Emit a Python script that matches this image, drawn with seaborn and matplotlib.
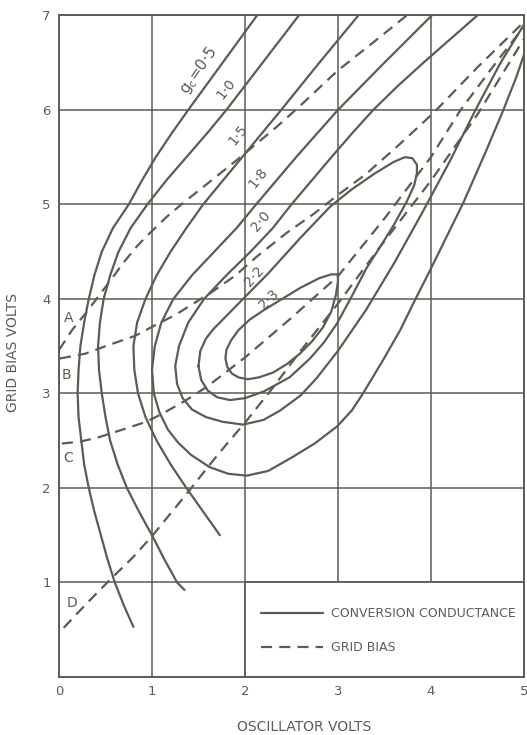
import pandas as pd
import seaborn as sns
import matplotlib.pyplot as plt
from matplotlib.lines import Line2D
from matplotlib.patches import Rectangle

ink = "#5b5c52"

# conversion conductance contours, x = oscillator volts, y = grid bias volts
gc05_x = [0.80, 0.70, 0.60, 0.52, 0.45, 0.38, 0.32, 0.27, 0.24, 0.21, 0.20, 0.21, 0.23, 0.27, 0.32, 0.38,
          0.46, 0.58, 0.75, 0.89, 1.04, 1.21, 1.39, 1.76, 2.13]
gc05_y = [0.53, 0.75, 1.00, 1.25, 1.50, 1.75, 2.00, 2.25, 2.50, 2.75, 3.00, 3.25, 3.50, 3.75, 4.00, 4.25,
          4.50, 4.75, 5.00, 5.25, 5.50, 5.75, 6.00, 6.50, 7.00]

gc10_x = [1.35, 1.27, 1.13, 1.00, 0.86, 0.73, 0.63, 0.55, 0.50, 0.46, 0.43, 0.42, 0.44, 0.48, 0.55, 0.64,
          0.77, 0.95, 1.15, 1.37, 1.59, 1.80, 2.19, 2.58]
gc10_y = [0.92, 1.00, 1.25, 1.50, 1.75, 2.00, 2.25, 2.50, 2.75, 3.00, 3.25, 3.50, 3.75, 4.00, 4.25, 4.50,
          4.75, 5.00, 5.25, 5.50, 5.75, 6.00, 6.50, 7.00]

gc15_x = [1.73, 1.55, 1.37, 1.20, 1.05, 0.93, 0.85, 0.81, 0.80, 0.84, 0.93, 1.05, 1.20, 1.37, 1.55, 1.76,
          1.97, 2.18, 2.39, 2.80, 3.22]
gc15_y = [1.50, 1.75, 2.00, 2.25, 2.50, 2.75, 3.00, 3.25, 3.50, 3.75, 4.00, 4.25, 4.50, 4.75, 5.00, 5.25,
          5.50, 5.75, 6.00, 6.50, 7.00]

gc18_x = [4.01, 3.50, 3.00, 2.55, 2.12, 1.91, 1.67, 1.43, 1.23, 1.10, 1.03, 1.00, 1.02, 1.08, 1.17, 1.28,
          1.42, 1.62, 1.82, 2.02, 2.25, 2.50, 2.75, 2.99, 3.15, 3.27, 3.49, 3.67, 3.83, 4.00, 4.18, 4.35,
          4.60, 4.78, 4.92, 5.00]
gc18_y = [7.00, 6.50, 6.00, 5.50, 5.00, 4.75, 4.50, 4.25, 4.00, 3.75, 3.50, 3.25, 3.00, 2.80, 2.62, 2.48,
          2.35, 2.22, 2.15, 2.13, 2.18, 2.32, 2.47, 2.65, 2.82, 3.00, 3.36, 3.67, 3.99, 4.32, 4.68, 5.02,
          5.58, 6.00, 6.35, 6.58]

gc20_x = [4.50, 4.21, 3.92, 3.64, 3.38, 3.15, 2.93, 2.50, 2.30, 2.06, 1.80, 1.56, 1.39, 1.29, 1.25, 1.27,
          1.33, 1.43, 1.58, 1.76, 1.98, 2.20, 2.38, 2.60, 2.77, 3.00, 3.30, 3.60, 3.90, 4.20, 4.48, 4.75, 5.00]
gc20_y = [7.00, 6.75, 6.50, 6.25, 6.00, 5.75, 5.50, 5.00, 4.75, 4.50, 4.25, 4.00, 3.75, 3.50, 3.29, 3.10,
          2.95, 2.83, 2.75, 2.70, 2.67, 2.72, 2.82, 2.98, 3.16, 3.45, 3.88, 4.37, 4.90, 5.45, 6.00, 6.50, 6.90]

gc22_x = [1.50, 1.52, 1.58, 1.66, 1.78, 1.98, 2.25, 2.60, 2.92, 3.15, 3.40, 3.60, 3.72, 3.80, 3.85, 3.85,
          3.82, 3.74, 3.60, 3.46, 3.31, 3.15, 2.99, 2.85, 2.70, 2.48, 2.20, 2.00, 1.84, 1.70, 1.60, 1.53, 1.50]
gc22_y = [3.29, 3.45, 3.58, 3.68, 3.80, 4.00, 4.27, 4.65, 4.98, 5.16, 5.33, 5.45, 5.50, 5.49, 5.42, 5.33,
          5.20, 5.03, 4.78, 4.56, 4.33, 4.03, 3.74, 3.54, 3.37, 3.17, 3.02, 2.95, 2.93, 2.96, 3.03, 3.14, 3.29]

gc23_x = [3.00, 2.93, 2.80, 2.60, 2.40, 2.20, 2.05, 1.93, 1.85, 1.80, 1.79, 1.81, 1.86, 1.93, 2.03, 2.15,
          2.30, 2.45, 2.59, 2.72, 2.84, 2.93, 2.98, 3.00, 3.00]
gc23_y = [4.26, 4.26, 4.22, 4.12, 4.00, 3.88, 3.78, 3.67, 3.56, 3.46, 3.37, 3.28, 3.21, 3.17, 3.15, 3.17,
          3.22, 3.31, 3.42, 3.55, 3.70, 3.87, 4.05, 4.18, 4.26]

# grid bias curves A-D
biasA_x = [0.00, 0.14, 0.32, 0.44, 0.55, 0.69, 0.84, 0.98, 1.16, 1.34, 1.66, 1.95, 2.34, 2.59, 2.99, 3.40, 3.74]
biasA_y = [3.46, 3.67, 3.89, 4.05, 4.19, 4.38, 4.56, 4.70, 4.87, 5.02, 5.27, 5.50, 5.82, 6.04, 6.41, 6.73, 7.00]

biasB_x = [0.01, 0.28, 0.50, 0.82, 1.03, 1.25, 1.46, 1.64, 1.90, 2.13, 2.45, 2.74, 3.00, 3.30, 3.60, 3.80,
           4.03, 4.50, 5.00]
biasB_y = [3.37, 3.42, 3.50, 3.61, 3.72, 3.83, 3.96, 4.07, 4.25, 4.45, 4.70, 4.90, 5.10, 5.32, 5.58, 5.76,
           5.97, 6.45, 6.93]

biasC_x = [0.03, 0.23, 0.44, 0.66, 0.94, 1.12, 1.37, 1.59, 2.00, 2.50, 3.00, 3.50, 4.00, 4.32, 4.70, 5.00]
biasC_y = [2.47, 2.49, 2.54, 2.61, 2.70, 2.79, 2.93, 3.07, 3.38, 3.80, 4.24, 4.85, 5.50, 6.00, 6.50, 6.88]

biasD_x = [0.05, 0.30, 0.55, 0.80, 1.00, 1.20, 1.40, 1.60, 1.80, 2.00, 2.30, 2.59, 3.00, 3.46, 4.00, 4.50, 5.00]
biasD_y = [0.52, 0.78, 1.03, 1.27, 1.49, 1.73, 1.97, 2.22, 2.46, 2.69, 3.06, 3.44, 3.95, 4.56, 5.25, 5.95, 6.75]

gc_labels = ["g$_\\mathrm{c}$=0·5", "1·0", "1·5", "1·8", "2·0", "2·2", "2·3"]
gc_label_x = [1.50, 1.80, 1.93, 2.14, 2.17, 2.10, 2.26]
gc_label_y = [6.42, 6.22, 5.74, 5.28, 4.82, 4.24, 3.99]
gc_label_rot = [55, 52, 52, 52, 50, 48, 45]

bias_letters = ["A", "B", "C", "D"]
letter_x = [0.10, 0.08, 0.10, 0.14]
letter_y = [3.80, 3.20, 2.32, 0.78]

solid = [(gc05_x, gc05_y), (gc10_x, gc10_y), (gc15_x, gc15_y), (gc18_x, gc18_y),
         (gc20_x, gc20_y), (gc22_x, gc22_y), (gc23_x, gc23_y)]
dashed = [(biasA_x, biasA_y), (biasB_x, biasB_y), (biasC_x, biasC_y), (biasD_x, biasD_y)]


def long_form(curves):
    rows = []
    for i, (xs, ys) in enumerate(curves):
        for x, y in zip(xs, ys):
            rows.append({"osc": x, "bias": y, "curve": i})
    return pd.DataFrame(rows)


df_gc = long_form(solid)
df_bias = long_form(dashed)

sns.set_style("white")
plt.rcParams["font.family"] = ["DejaVu Sans"]

fig, ax = plt.subplots(figsize=(5.27, 7.35), dpi=100)
fig.subplots_adjust(left=0.112, right=0.994, top=0.979, bottom=0.079)

sns.lineplot(data=df_gc, x="osc", y="bias", units="curve", estimator=None, sort=False,
             color=ink, lw=1.6, legend=False, ax=ax, zorder=3,
             solid_joinstyle="round")
sns.lineplot(data=df_bias, x="osc", y="bias", units="curve", estimator=None, sort=False,
             color=ink, lw=1.6, linestyle=(0, (5.0, 3.2)), legend=False, ax=ax, zorder=3)

ax.set_xlim(0, 5)
ax.set_ylim(0, 7)
ax.set_xticks(range(0, 6))
ax.set_yticks(range(1, 8))
ax.grid(True, color=ink, lw=1.1)
ax.set_axisbelow(True)
for sp in ax.spines.values():
    sp.set_color(ink)
    sp.set_linewidth(1.4)
ax.tick_params(length=0, labelsize=9.5, labelcolor=ink, pad=6)
ax.set_xlabel("")
ax.set_ylabel("")

# legend panel covers the grid in the lower right
ax.add_patch(Rectangle((2, 0), 3, 1, facecolor="white", edgecolor=ink, lw=1.3, zorder=2))
handles = [Line2D([], [], color=ink, lw=1.6),
           Line2D([], [], color=ink, lw=1.6, linestyle=(0, (5.0, 3.2)))]
ax.legend(handles, ["CONVERSION CONDUCTANCE", "GRID BIAS"], loc="center left",
          bbox_to_anchor=(2.05, 0.49), bbox_transform=ax.transData, frameon=False,
          fontsize=9, handlelength=5.0, handletextpad=0.6, labelspacing=1.65,
          labelcolor=ink)

for t, x, y, r in zip(gc_labels, gc_label_x, gc_label_y, gc_label_rot):
    fs = 11 if t.startswith("g") else 10
    ax.text(x, y, t, fontsize=fs, color=ink, rotation=r, ha="center", va="center",
            zorder=4)
for t, x, y in zip(bias_letters, letter_x, letter_y):
    ax.text(x, y, t, fontsize=10, color=ink, ha="center", va="center", zorder=4)

fig.text(0.577, 0.011, "OSCILLATOR VOLTS", fontsize=10, color=ink, ha="center", va="center")
fig.text(0.024, 0.521, "GRID BIAS VOLTS", fontsize=10, color=ink, rotation=90,
         ha="center", va="center")

fig.savefig("out.png", dpi=100, facecolor="white")
